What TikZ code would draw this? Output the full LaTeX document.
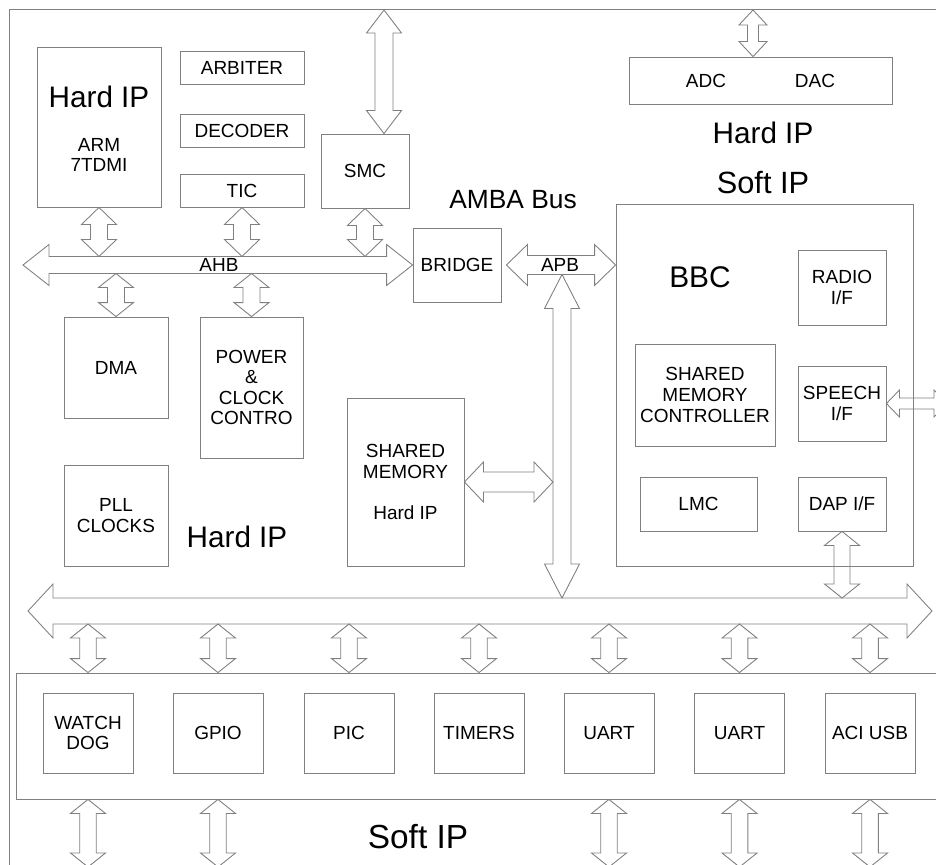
\documentclass[tikz,border=0pt]{standalone}
\usepackage{fontspec}
\setmainfont{Liberation Sans}
\usetikzlibrary{calc,positioning}
% hollow double block arrows: from, to, head half width, shaft half width, head length
\newcommand{\vlink}[5]{\draw[link] #1 -- ($#1+(#3,#5)$) -- ($#1+(#4,#5)$) -- ($#2+(#4,-#5)$) -- ($#2+(#3,-#5)$) -- #2 -- ($#2+(-#3,-#5)$) -- ($#2+(-#4,-#5)$) -- ($#1+(-#4,#5)$) -- ($#1+(-#3,#5)$) -- cycle;}
\newcommand{\hlink}[5]{\draw[link] #1 -- ($#1+(#5,-#3)$) -- ($#1+(#5,-#4)$) -- ($#2+(-#5,-#4)$) -- ($#2+(-#5,-#3)$) -- #2 -- ($#2+(-#5,#3)$) -- ($#2+(-#5,#4)$) -- ($#1+(#5,#4)$) -- ($#1+(#5,#3)$) -- cycle;}

\begin{document}
\begin{tikzpicture}[
  x=0.02cm, y=-0.02cm,
  box/.style={draw=black!50, line width=0.5pt, inner sep=0pt, align=center, font=\fontsize{10.8}{11.7}\selectfont},
  sz/.style 2 args={minimum width=#1*0.02cm, minimum height=#2*0.02cm},
  link/.style={draw=black!50, line width=0.5pt, line join=miter},
  lbl/.style={font=\fontsize{10.8}{11.7}\selectfont, align=center},
  title/.style={font=\fontsize{16.9}{20}\selectfont},
  bigtitle/.style={font=\fontsize{17.5}{21}\selectfont}
]
\useasboundingbox (0,0) rectangle (936,865);
\clip (0,0) rectangle (936,865);

% frames
\node[box, sz={951}{881}] (chip) at (484.5,449.5) {};
\node[box, sz={944}{126}] (soft) at (488,736) {};

% AHB side
\node[box, sz={124}{160}] (arm) at (99,127) {};
\node[title] (armhard) at (99,97) {Hard IP};
\node[lbl] (armname) at (99,155) {ARM\\7TDMI};
\node[box, sz={124}{33}] (arbiter) at (242,67.5) {ARBITER};
\node[box, sz={124}{33}] (decoder) at (242,130.5) {DECODER};
\node[box, sz={124}{33}] (tic) at (242,190.5) {TIC};
\node[box, sz={88}{74}] (smc) at (365,171) {SMC};
\node[box, sz={88}{74}] (bridge) at (457,265) {BRIDGE};
\node[box, sz={104}{101}] (dma) at (116,367.5) {DMA};
\node[box, sz={103}{141}] (power) at (251.5,387.5) {POWER\\\&\\CLOCK\\CONTRO};
\node[box, sz={104}{101}] (pll) at (116,515.5) {PLL\\CLOCKS};
\node[box, sz={117}{168}] (shmem) at (405.5,482) {SHARED\\MEMORY\\[11.7pt]Hard IP};
\node[title] (hardl) at (237,537) {Hard IP};
\node[font=\fontsize{15}{18}\selectfont] (amba) at (513,200) {AMBA Bus};

% ADC / DAC and BBC
\node[box, sz={263}{47}] (adcdac) at (760.5,80.5) {};
\node[lbl] (adc) at (706,80.5) {ADC};
\node[lbl] (dac) at (815,80.5) {DAC};
\node[title] (hardr) at (763,133) {Hard IP};
\node[bigtitle] (softr) at (763,183) {Soft IP};
\node[box, sz={297}{362}] (bbc) at (764.5,385) {};
\node[font=\fontsize{17}{20}\selectfont] (bbcname) at (700,277) {BBC};
\node[box, sz={88}{75}] (radio) at (842,287.5) {RADIO\\I/F};
\node[box, sz={140}{102}] (smctrl) at (705,395) {SHARED\\MEMORY\\CONTROLLER};
\node[box, sz={88}{75}] (speech) at (842,403.5) {SPEECH\\I/F};
\node[box, sz={117}{54}] (lmc) at (698.5,504) {LMC};
\node[box, sz={88}{54}] (dap) at (842,504) {DAP I/F};

% peripherals
\node[box, sz={90}{80}] (wd) at (88,733) {WATCH\\DOG};
\node[box, sz={90}{80}] (gpio) at (218,733) {GPIO};
\node[box, sz={90}{80}] (pic) at (349,733) {PIC};
\node[box, sz={90}{80}] (timers) at (479,733) {TIMERS};
\node[box, sz={90}{80}] (uarta) at (609,733) {UART};
\node[box, sz={90}{80}] (uartb) at (739.5,733) {UART};
\node[box, sz={90}{80}] (aci) at (870,733) {ACI USB};
\node[font=\fontsize{19}{23}\selectfont] (softb) at (418,837) {Soft IP};

% bus ends
\coordinate (ahbl) at (23,265);
\coordinate (ahbn) at (0,256.5);
\coordinate (ahbs) at (0,273.5);
\coordinate (apbl) at ($(bridge.east)+(5,0)$);
\coordinate (apbr) at (bbc.west |- bridge.east);
\coordinate (apbs) at (562,274.5);
\coordinate (apbw) at (553,0);
\coordinate (lbl) at (28,611);
\coordinate (lbr) at (932,611);
\coordinate (lbn) at (0,598);
\coordinate (lbs) at (0,624);
\coordinate (smctop) at (384,10);
\coordinate (adctop) at (753,10);
\coordinate (spr) at (947,0);
\coordinate (bot) at (0,867);

% buses
\hlink{(ahbl)}{(bridge.west)}{20.5}{8.5}{26}
\hlink{(apbl)}{(apbr)}{20.5}{9.5}{21}
\hlink{(lbl)}{(lbr)}{27}{13}{25}
\vlink{(apbs)}{(apbs |- lbn)}{17.5}{9}{34}
\node[lbl] (ahb) at (219,265) {AHB};
\node[lbl] (apb) at (560,265) {APB};

% links
\vlink{(arm.south)}{(arm.south |- ahbn)}{17.5}{8.5}{17}
\vlink{(tic.south)}{(tic.south |- ahbn)}{17.5}{8.5}{17}
\vlink{(smc.south)}{(smc.south |- ahbn)}{17.5}{8.5}{17}
\vlink{(dma.north |- ahbs)}{(dma.north)}{17.5}{8.5}{14}
\vlink{(power.north |- ahbs)}{(power.north)}{17.5}{8.5}{14}
\vlink{(smctop)}{(smctop |- smc.north)}{17.5}{9}{23}
\vlink{(adctop)}{(adctop |- adcdac.north)}{14}{5.5}{15}
\hlink{(shmem.east)}{(apbw |- shmem.east)}{20}{10}{19}
\hlink{(speech.east)}{(spr |- speech.east)}{13.5}{5.5}{13}
\vlink{(dap.south)}{(dap.south |- lbn)}{17.5}{8}{14}

\vlink{(wd |- lbs)}{(wd |- soft.north)}{17.5}{8.3}{14}
\vlink{(gpio |- lbs)}{(gpio |- soft.north)}{17.5}{8.3}{14}
\vlink{(pic |- lbs)}{(pic |- soft.north)}{17.5}{8.3}{14}
\vlink{(timers |- lbs)}{(timers |- soft.north)}{17.5}{8.3}{14}
\vlink{(uarta |- lbs)}{(uarta |- soft.north)}{17.5}{8.3}{14}
\vlink{(uartb |- lbs)}{(uartb |- soft.north)}{17.5}{8.3}{14}
\vlink{(aci |- lbs)}{(aci |- soft.north)}{17.5}{8.3}{14}

\vlink{(wd |- soft.south)}{(wd |- bot)}{17.5}{8.3}{14}
\vlink{(gpio |- soft.south)}{(gpio |- bot)}{17.5}{8.3}{14}
\vlink{(uarta |- soft.south)}{(uarta |- bot)}{17.5}{8.3}{14}
\vlink{(uartb |- soft.south)}{(uartb |- bot)}{17.5}{8.3}{14}
\vlink{(aci |- soft.south)}{(aci |- bot)}{17.5}{8.3}{14}

\end{tikzpicture}
\end{document}
